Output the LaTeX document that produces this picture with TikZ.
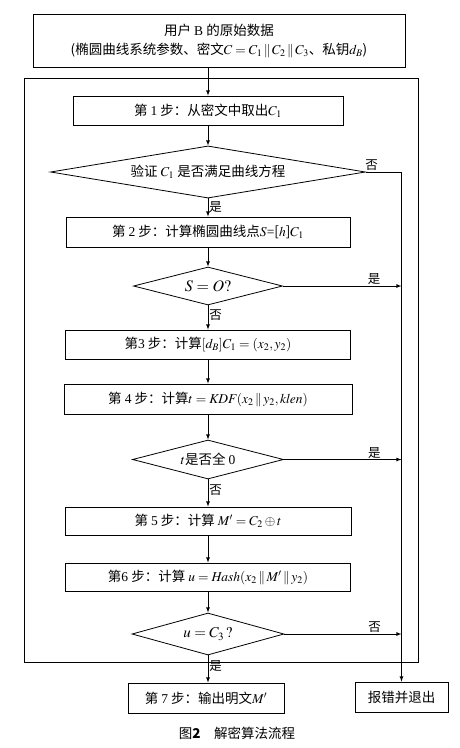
\documentclass[tikz,border=0pt]{standalone}
\usepackage{mathptmx}
\usepackage{fontspec}
\setmainfont{Liberation Serif}
\newfontfamily\cjk{Noto Sans CJK SC}
\usetikzlibrary{shapes.geometric}
\tikzset{
  stepbox/.style={draw, rectangle, line width=.8pt, inner sep=0pt, minimum height=29pt},
  decbox/.style={draw, diamond, line width=.8pt, inner sep=0pt, aspect=4},
  lab/.style={inner sep=1pt, font=\cjk\fontsize{12.5}{14}\selectfont},
  arr/.style={->, >=latex, line width=.8pt}
}
\begin{document}
\begin{tikzpicture}[x=1pt, y=1pt, every node/.style={font=\cjk\fontsize{13.5}{17}\selectfont}]
\useasboundingbox (0,0) rectangle (460,-748);
\node[stepbox, minimum width=372pt, minimum height=53pt, align=center] (data) at (219,-40.5) {用户 \textrm{B} 的原始数据\\[2pt](椭圆曲线系统参数、密文$C=C_1\,\|\,C_2\,\|\,C_3$、私钥$d_B$)};
\draw[line width=.8pt] (24,-78) rectangle (418,-662);
\node[stepbox, minimum width=270pt] (s1) at (208,-110.5) {第 \textrm{1} 步：从密文中取出$C_1$};
\node[decbox, minimum width=315pt, minimum height=52pt] (d1) at (208,-172) {验证 $C_1$ 是否满足曲线方程};
\node[stepbox, minimum width=284pt, minimum height=30pt] (s2) at (208,-232) {第 \textrm{2} 步：计算椭圆曲线点$S$\textrm{=}[$h$]$C_1$};
\node[decbox, minimum width=149pt, minimum height=38pt, font=\fontsize{16}{18}\selectfont] (d2) at (208,-286) {$S=O?$};
\node[stepbox, minimum width=285pt] (s3) at (208,-344.5) {第\textrm{3} 步：计算$[d_B]C_1=(x_2,y_2)$};
\node[stepbox, minimum width=288pt, minimum height=30pt] (s4) at (208,-399) {第 \textrm{4} 步：计算$t=\mathit{KDF}(x_2\,\|\,y_2,\mathit{klen})$};
\node[decbox, minimum width=151pt, minimum height=39pt] (d3) at (208,-459.5) {$t$是否全 \textrm{0}};
\node[stepbox, minimum width=286pt, minimum height=28pt] (s5) at (208,-521) {第 \textrm{5} 步：计算 $M'=C_2\oplus t$};
\node[stepbox, minimum width=285pt, minimum height=28pt] (s6) at (208,-577) {第\textrm{6} 步：计算 $u=\mathit{Hash}(x_2\,\|\,M'\,\|\,y_2)$};
\node[decbox, minimum width=152pt, minimum height=42pt, font=\fontsize{15}{17}\selectfont] (d4) at (208,-634) {$u=C_3\,?$};
\node[stepbox, minimum width=156pt, minimum height=30pt] (s7) at (206,-698) {第 \textrm{7} 步：输出明文$M'$};
\node[stepbox, minimum width=93pt, minimum height=30pt] (err) at (401.5,-697) {报错并退出};
\node (cap) at (237,-733) {图\textbf{2}\quad 解密算法流程};
\draw[arr] (s1.north |- data.south) -- (s1.north);
\draw[arr] (s1) -- (d1);
\draw[arr] (d1) -- node[lab, right, pos=.45] {是} (s2);
\draw[arr] (s2) -- (d2);
\draw[arr] (d2) -- node[lab, right, pos=.4] {否} (s3);
\draw[arr] (s3) -- (s4);
\draw[arr] (s4) -- (d3);
\draw[arr] (d3) -- node[lab, right, pos=.4] {否} (s5);
\draw[arr] (s5) -- (s6);
\draw[arr] (s6) -- (d4);
\draw[arr] (d4.south) -- node[lab, right, pos=.4] {是} (s7.north -| d4.south);
\draw[arr] (d1.east) -- node[lab, above right, pos=0, xshift=-2pt] {否} (d1.east -| err.north) -- (err.north);
\draw[arr] (d2.east) -- node[lab, above, pos=.77] {是} (d2.east -| err.north);
\draw[arr] (d3.east) -- node[lab, above, pos=.77] {是} (d3.east -| err.north);
\draw[arr] (d4.east) -- node[lab, above, pos=.77] {否} (d4.east -| err.north);
\end{tikzpicture}
\end{document}
